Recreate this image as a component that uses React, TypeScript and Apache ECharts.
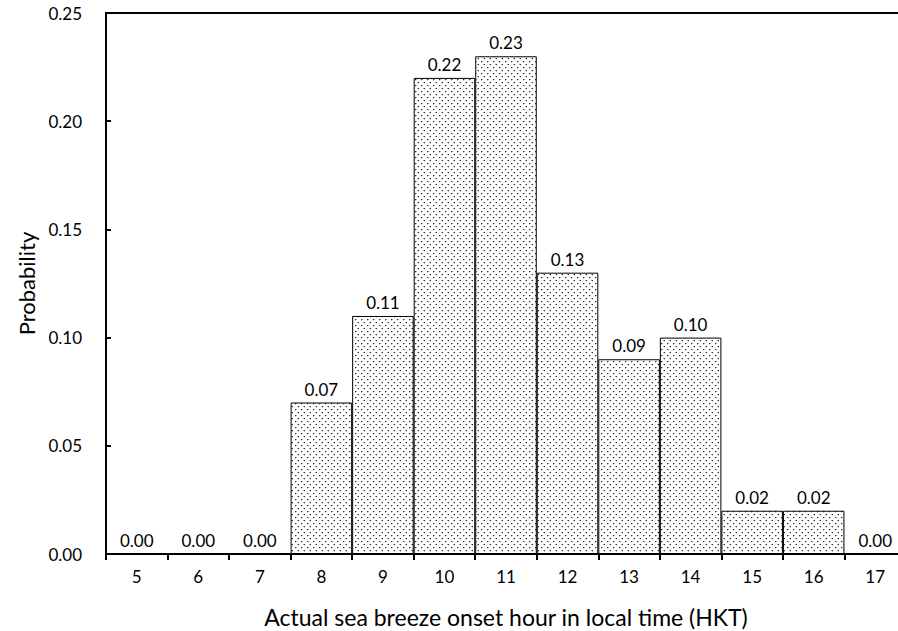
import React, { useEffect, useRef } from "react";
import * as echarts from "echarts";

const hours = ["5", "6", "7", "8", "9", "10", "11", "12", "13", "14", "15", "16", "17"];
const probability = [0.0, 0.0, 0.0, 0.07, 0.11, 0.22, 0.23, 0.13, 0.09, 0.1, 0.02, 0.02, 0.0];
const yTicks = [0, 0.05, 0.1, 0.15, 0.2, 0.25];

const FONT = "Lato";

function makePattern(): HTMLCanvasElement {
  const c = document.createElement("canvas");
  c.width = 6;
  c.height = 6;
  const ctx = c.getContext("2d")!;
  ctx.fillStyle = "#ffffff";
  ctx.fillRect(0, 0, 6, 6);
  ctx.fillStyle = "#333333";
  ctx.fillRect(1, 1, 1, 1);
  ctx.fillRect(4, 4, 1, 1);
  ctx.fillStyle = "#a0a0a0";
  ctx.fillRect(2, 1, 1, 1);
  ctx.fillRect(3, 4, 1, 1);
  ctx.fillStyle = "#cccccc";
  ctx.fillRect(1, 2, 1, 1);
  ctx.fillRect(4, 5, 1, 1);
  return c;
}

export default function App() {
  const ref = useRef<HTMLDivElement>(null);
  useEffect(() => {
    if (!ref.current) return;
    const chart = echarts.init(ref.current, undefined, { renderer: "svg" });
    const pattern = makePattern();
    chart.setOption({
      animation: false,
      backgroundColor: "#ffffff",
      grid: {
        left: 106,
        top: 13,
        width: 800,
        bottom: 77,
        outerBoundsMode: "none",
        containLabel: false,
        show: true,
        borderColor: "#000",
        borderWidth: 2,
        backgroundColor: "transparent",
      },
      xAxis: {
        type: "category",
        data: hours,
        name: "Actual sea breeze onset hour in local time (HKT)",
        nameLocation: "middle",
        nameGap: 51,
        nameTextStyle: { fontFamily: FONT, fontSize: 23, color: "#000" },
        axisLine: { lineStyle: { color: "#000", width: 2 } },
        axisTick: { show: true, alignWithLabel: false, length: 6, lineStyle: { color: "#000", width: 2 } },
        axisLabel: { fontFamily: FONT, fontSize: 17, color: "#000", margin: 14 },
      },
      yAxis: {
        type: "value",
        min: 0,
        max: 0.25,
        interval: 0.05,
        name: "Probability",
        nameLocation: "middle",
        nameGap: 63,
        nameTextStyle: { fontFamily: FONT, fontSize: 22, color: "#000" },
        splitLine: { show: false },
        axisLine: { show: true, lineStyle: { color: "#000", width: 2 } },
        axisTick: { show: true, inside: true, length: 5, lineStyle: { color: "#000", width: 2 } },
        axisLabel: {
          fontFamily: FONT,
          fontSize: 17,
          color: "#000",
          margin: 24,
          formatter: (v: number) => (yTicks.includes(Math.round(v * 100) / 100) ? v.toFixed(2) : ""),
        },
      },
      series: [
        {
          type: "bar",
          data: probability,
          barCategoryGap: "0%",
          itemStyle: {
            color: { image: pattern, repeat: "repeat" },
            borderColor: "#000",
            borderWidth: 1,
          },
          label: {
            show: true,
            position: "top",
            distance: 5,
            fontFamily: FONT,
            fontSize: 17,
            color: "#000",
            formatter: (p: any) => Number(p.value).toFixed(2),
          },
        },
      ],
    });
    return () => chart.dispose();
  }, []);
  return (
    <div
      ref={ref}
      style={{ position: "fixed", left: 0, top: 0, width: 898, height: 631, overflow: "hidden" }}
    />
  );
}
